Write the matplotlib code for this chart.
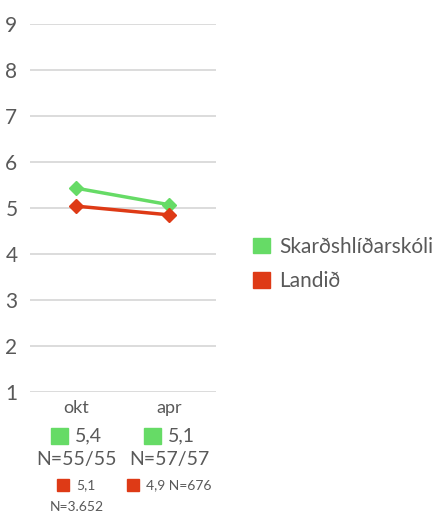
import matplotlib.pyplot as plt
from matplotlib.patches import Rectangle
from matplotlib.offsetbox import DrawingArea, TextArea, HPacker, AnnotationBbox
from matplotlib.transforms import blended_transform_factory

plt.rcParams['font.family'] = ['Lato', 'DejaVu Sans']

categories = ["okt", "apr"]
school = [5.43, 5.07]
national = [5.04, 4.85]
school_name = "Skarðshlíðarskóli"
national_name = "Landið"
school_labels = ["5,4", "5,1"]
school_n = ["N=55/55", "N=57/57"]
national_labels = ["5,1", "4,9 N=676"]
national_n = ["N=3.652", ""]

green = "#66DB66"
red = "#DE3A16"
txt = "#595959"
W, H = 433, 518

fig = plt.figure(figsize=(W / 100, H / 100), dpi=100)
ax = fig.add_axes([30 / W, 1 - 392 / H, 186 / W, 368 / H])

x = list(range(len(categories)))
ax.plot(x, school, color=green, lw=2.5, marker="D", ms=7, clip_on=False, zorder=3)
ax.plot(x, national, color=red, lw=2.5, marker="D", ms=7, clip_on=False, zorder=4)

ax.set_xlim(-0.5, 1.5)
ax.set_ylim(1, 9)
ax.set_yticks(range(1, 10))
ax.set_xticks([])
ax.grid(axis="y", color="#d9d9d9", lw=1.3)
ax.set_axisbelow(True)
for s in ax.spines.values():
    s.set_visible(False)
ax.tick_params(axis="y", length=0, pad=9, labelsize=15, labelcolor=txt)

tr = blended_transform_factory(ax.transData, fig.transFigure)


def fy(py):
    return 1 - py / H


def keyed(xi, py, color, label, size):
    da = DrawingArea(size * 0.85, size * 0.85)
    da.add_artist(Rectangle((0, 0), size * 0.85, size * 0.85, color=color))
    ta = TextArea(label, textprops=dict(color=txt, fontsize=size))
    box = HPacker(children=[da, ta], pad=0, sep=5, align="center")
    ab = AnnotationBbox(box, (xi, fy(py)), xycoords=tr, frameon=False,
                        box_alignment=(0.5, 0.5), annotation_clip=False)
    ax.add_artist(ab)


for i, c in enumerate(categories):
    ax.text(i, fy(408), c, transform=tr, ha="center", va="center",
            fontsize=13, color=txt)
    keyed(i, 436, green, school_labels[i], 14)
    ax.text(i, fy(460), school_n[i], transform=tr, ha="center", va="center",
            fontsize=14, color=txt)
    keyed(i, 485, red, national_labels[i], 10)
    if national_n[i]:
        ax.text(i, fy(507), national_n[i], transform=tr, ha="center",
                va="center", fontsize=10, color=txt)

handles = [Rectangle((0, 0), 1, 1, color=green), Rectangle((0, 0), 1, 1, color=red)]
fig.legend(handles, [school_name, national_name], loc="center left",
           bbox_to_anchor=(245 / W, fy(264)), frameon=False, fontsize=15,
           labelcolor=txt, handlelength=0.8, handleheight=0.8,
           handletextpad=0.45, labelspacing=0.7, borderaxespad=0)

fig.savefig("out.png", dpi=100)
